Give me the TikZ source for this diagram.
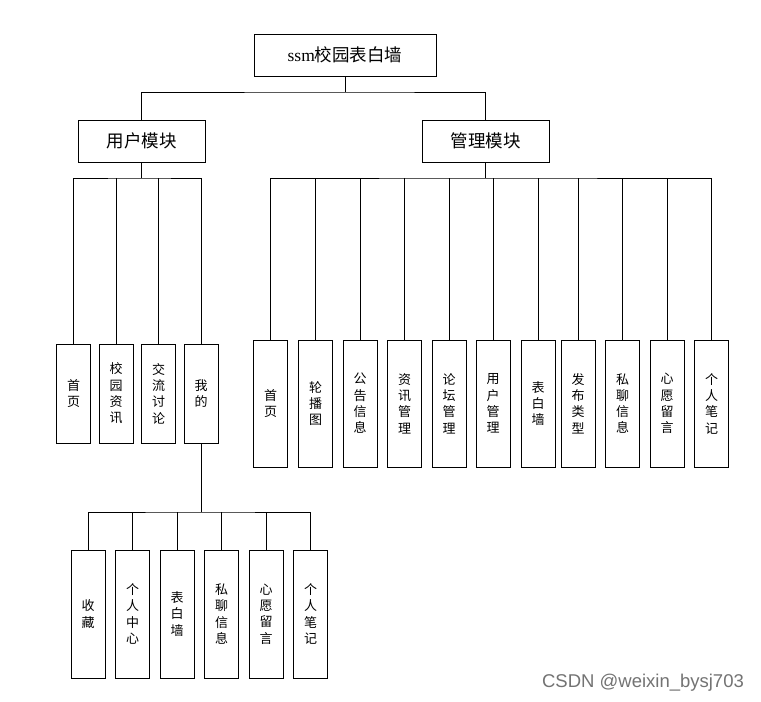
\documentclass[tikz,border=0pt]{standalone}
\usepackage{fontspec}
\setmainfont{Noto Sans CJK SC}
\newfontfamily\ser{Liberation Serif}
\newfontfamily\wm{Liberation Sans}
\begin{document}
\begin{tikzpicture}[x=1pt,y=-1pt,
  box/.style={draw,line width=0.9pt,inner sep=0pt,align=center},
  topbox/.style={box,minimum width=182pt,minimum height=42pt,font=\fontsize{17.5}{20}\selectfont},
  modbox/.style={box,minimum width=127pt,minimum height=42pt,font=\fontsize{17.5}{20}\selectfont},
  leaf/.style={box,minimum width=34pt,font=\fontsize{13}{16.3}\selectfont},
  uleaf/.style={leaf,minimum height=99pt},
  aleaf/.style={leaf,minimum height=127pt},
  sleaf/.style={leaf,minimum height=128pt},
  conn/.style={line width=0.9pt}]
\useasboundingbox (0,0) rectangle (761,702);
\fill[white] (0,0) rectangle (761,702);

\node[topbox] (root) at (345,55) {{\ser ssm}校园表白墙};
\node[modbox] (user) at (141.5,141) {用户模块};
\node[modbox] (admin) at (485.5,141) {管理模块};

% user leaves
\node[uleaf] (u1) at (73.5,393.5) {首\\页};
\node[uleaf] (u2) at (116,393.5) {校\\园\\资\\讯};
\node[uleaf] (u3) at (158.5,393.5) {交\\流\\讨\\论};
\node[uleaf] (u4) at (201,393.5) {我\\的};

% admin leaves
\node[aleaf] (a1) at (270.5,403.5) {首\\页};
\node[aleaf] (a2) at (315.5,403.5) {轮\\播\\图};
\node[aleaf] (a3) at (360,403.5) {公\\告\\信\\息};
\node[aleaf] (a4) at (404.5,403.5) {资\\讯\\管\\理};
\node[aleaf] (a5) at (449,403.5) {论\\坛\\管\\理};
\node[aleaf] (a6) at (493,403.5) {用\\户\\管\\理};
\node[aleaf] (a7) at (538,403.5) {表\\白\\墙};
\node[aleaf] (a8) at (578,403.5) {发\\布\\类\\型};
\node[aleaf] (a9) at (622.5,403.5) {私\\聊\\信\\息};
\node[aleaf] (a10) at (667,403.5) {心\\愿\\留\\言};
\node[aleaf] (a11) at (711.5,403.5) {个\\人\\笔\\记};

% sub leaves of 我的
\node[sleaf] (s1) at (88,614) {收\\藏};
\node[sleaf] (s2) at (132.7,614) {个\\人\\中\\心};
\node[sleaf] (s3) at (177,614) {表\\白\\墙};
\node[sleaf] (s4) at (221.5,614) {私\\聊\\信\\息};
\node[sleaf] (s5) at (266,614) {心\\愿\\留\\言};
\node[sleaf] (s6) at (310.5,614) {个\\人\\笔\\记};

% bus coordinates
\coordinate (rb) at (345,92);
\coordinate (ub) at (141.5,178);
\coordinate (ab) at (485.5,178);
\coordinate (sb) at (201,512);

% root to modules
\draw[conn] (root.south) -- (rb);
\draw[conn] (user.north) |- (rb) -| (admin.north);

% user bus
\draw[conn] (user.south) -- (ub);
\draw[conn] (u1.north) |- (ub) -| (u4.north);
\foreach \n in {u2,u3} \draw[conn] (\n.north) -- (\n.north |- ub);

% admin bus
\draw[conn] (admin.south) -- (ab);
\draw[conn] (a1.north) |- (ab) -| (a11.north);
\foreach \n in {a2,a3,a4,a5,a6,a7,a8,a9,a10} \draw[conn] (\n.north) -- (\n.north |- ab);

% sub bus
\draw[conn] (u4.south) -- (sb);
\draw[conn] (s1.north) |- (sb) -| (s6.north);
\foreach \n in {s2,s3,s4,s5} \draw[conn] (\n.north) -- (\n.north |- sb);

\node[font=\wm\fontsize{18.5}{22}\selectfont,text=black!55] (wmk) at (643,683) {CSDN @weixin\_bysj703};
\end{tikzpicture}
\end{document}
